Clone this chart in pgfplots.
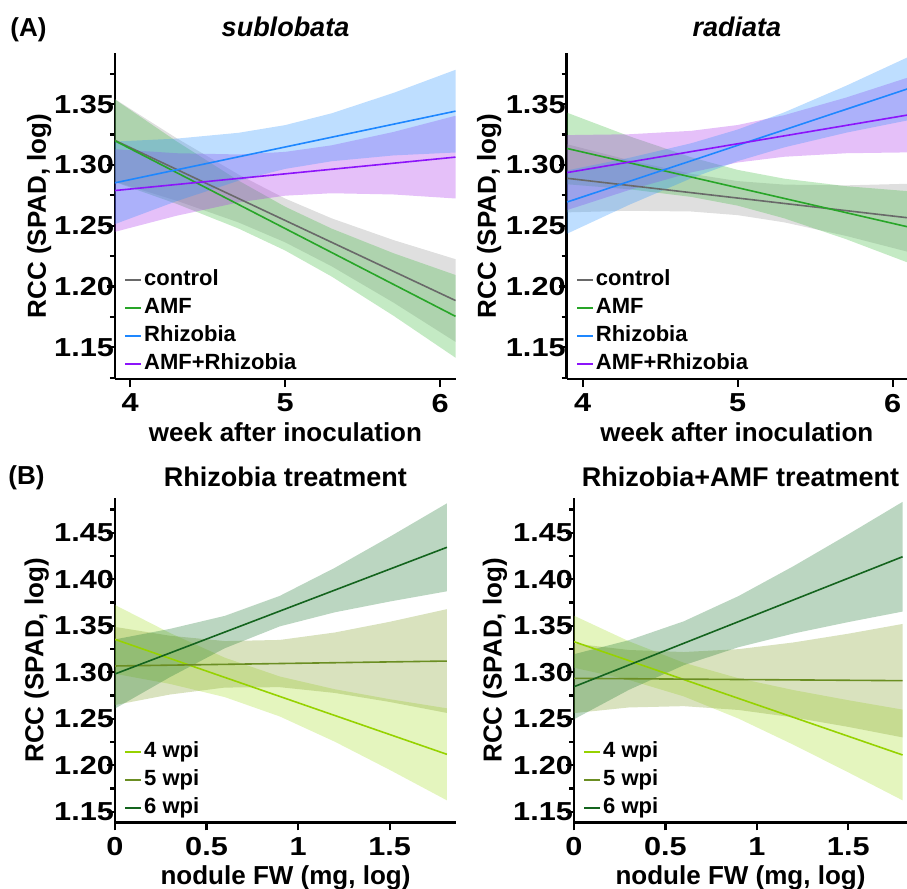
\documentclass[border=0pt]{standalone}
\usepackage{fontspec}
\setmainfont{Liberation Sans}
\newfontfamily\tickfont{Liberation Sans}[FakeStretch=1.18]
\usepackage{pgfplots}
\pgfplotsset{compat=1.18}

\definecolor{ctrl}{RGB}{105,105,105}
\definecolor{ctrlf}{RGB}{150,150,150}
\definecolor{amf}{RGB}{40,165,40}
\definecolor{amff}{RGB}{60,185,60}
\definecolor{rhz}{RGB}{30,135,255}
\definecolor{rhzf}{RGB}{40,145,255}
\definecolor{both}{RGB}{140,20,250}
\definecolor{bothf}{RGB}{170,45,235}
\definecolor{wkfour}{RGB}{150,210,0}
\definecolor{wkfourf}{RGB}{165,222,40}
\definecolor{wkfive}{RGB}{107,142,35}
\definecolor{wkfivef}{RGB}{130,160,40}
\definecolor{wksix}{RGB}{20,100,30}
\definecolor{wksixf}{RGB}{30,120,50}

\pgfplotsset{
  panel/.style={
    scale only axis, anchor=south west,
    axis x line*=bottom, axis y line*=left,
    axis line style={line width=1.4pt},
    every tick/.style={black, line width=1.1pt},
    tick align=outside,
    major tick length=4pt, minor tick length=2.5pt,
    /pgf/number format/assume math mode=true,
    tick label style={font=\tickfont\fontsize{13}{15}\selectfont\bfseries},
    yticklabel style={xshift=7pt, /pgf/number format/fixed, /pgf/number format/fixed zerofill,
      /pgf/number format/precision=2},
    label style={font=\fontsize{13}{15}\selectfont\bfseries},
    ylabel style={anchor=center},
    xlabel style={at={(axis description cs:0.5,0)}, anchor=base, yshift=-31pt},
    title style={at={(axis description cs:0.5,1)}, anchor=base,
      font=\fontsize{13.5}{15}\selectfont\bfseries},
    legend cell align=left,
    legend image code/.code={\draw[#1, line width=0.9pt] (0pt,0pt) -- (8pt,0pt);},
    legend style={draw=none, fill=none, at={(axis description cs:0,0)}, anchor=south west,
      xshift=4.5pt, yshift=1.5pt, inner sep=0pt, row sep=2pt,
      font=\fontsize{11}{12}\selectfont\bfseries,
      nodes={text height=8pt, text depth=2pt, inner sep=1pt}},
  },
  band/.style={draw=none, fill=#1, fill opacity=0.3, forget plot},
  fit/.style={#1, line width=0.8pt, no markers},
}

\begin{document}
\begin{tikzpicture}
\path[use as bounding box] (0pt,0pt) rectangle (453.5pt,-444.5pt);
\node[anchor=base west, inner sep=0pt, font=\fontsize{13}{14}\selectfont\bfseries] at (5pt,-18pt) {(A)};
\node[anchor=base west, inner sep=0pt, font=\fontsize{13}{14}\selectfont\bfseries] at (4pt,-242pt) {(B)};

% (A) sublobata
\begin{axis}[panel, at={(57.5pt,-189.5pt)}, width=170.5pt, height=163pt,
  xmin=3.903, xmax=6.103, ymin=1.124, ymax=1.392,
  xtick={4,5,6}, ytick={1.15,1.20,1.25,1.30,1.35},
  minor ytick={1.125,1.175,1.225,1.275,1.325,1.375},
  title={\itshape sublobata}, title style={yshift=2.5pt},
  xlabel={week after inoculation}, ylabel={RCC (SPAD, log)},
  ylabel style={at={(axis description cs:-0.2223,0.5)}}]
\addplot[band=ctrlf] coordinates {(3.9,1.3543)(4.3,1.3220)(4.7,1.2921)(5.0,1.2724)(5.3,1.2561)(5.7,1.2382)(6.1,1.2225)
  (6.1,1.1545)(5.7,1.1868)(5.3,1.2167)(5.0,1.2364)(4.7,1.2527)(4.3,1.2706)(3.9,1.2863)};
\addplot[band=amff] coordinates {(3.9,1.3540)(4.3,1.3194)(4.7,1.2871)(5.0,1.2657)(5.3,1.2477)(5.7,1.2274)(6.1,1.2095)
  (6.1,1.1415)(5.7,1.1760)(5.3,1.2083)(5.0,1.2297)(4.7,1.2477)(4.3,1.2680)(3.9,1.2860)};
\addplot[band=bothf] coordinates {(3.9,1.3129)(4.3,1.3096)(4.7,1.3086)(5.0,1.3107)(5.3,1.3161)(5.7,1.3271)(6.1,1.3404)
  (6.1,1.2724)(5.7,1.2757)(5.3,1.2767)(5.0,1.2747)(4.7,1.2692)(4.3,1.2582)(3.9,1.2449)};
\addplot[band=rhzf] coordinates {(3.9,1.3192)(4.3,1.3216)(4.7,1.3264)(5.0,1.3327)(5.3,1.3424)(5.7,1.3592)(6.1,1.3782)
  (6.1,1.3102)(5.7,1.3078)(5.3,1.3030)(5.0,1.2967)(4.7,1.2870)(4.3,1.2702)(3.9,1.2512)};
\addplot[fit=ctrl] coordinates {(3.9,1.3203)(6.1,1.1885)};
\addlegendentry{control}
\addplot[fit=amf] coordinates {(3.9,1.3200)(6.1,1.1755)};
\addlegendentry{AMF}
\addplot[fit=rhz] coordinates {(3.9,1.2852)(6.1,1.3442)};
\addlegendentry{Rhizobia}
\addplot[fit=both] coordinates {(3.9,1.2789)(6.1,1.3064)};
\addlegendentry{AMF+Rhizobia}
\end{axis}

% (A) radiata
\begin{axis}[panel, at={(283.35pt,-189.5pt)}, width=170.15pt, height=163pt,
  xmin=3.897, xmax=6.092, ymin=1.124, ymax=1.392,
  xtick={4,5,6}, ytick={1.15,1.20,1.25,1.30,1.35},
  minor ytick={1.125,1.175,1.225,1.275,1.325,1.375},
  title={\itshape radiata}, title style={yshift=2.5pt},
  xlabel={week after inoculation}, ylabel={RCC (SPAD, log)},
  ylabel style={at={(axis description cs:-0.2277,0.5)}}]
\addplot[band=ctrlf] coordinates {(3.9,1.3170)(4.3,1.3039)(4.7,1.2927)(5.0,1.2867)(5.3,1.2838)(5.7,1.2832)(6.1,1.2845)
  (6.1,1.2285)(5.7,1.2416)(5.3,1.2528)(5.0,1.2587)(4.7,1.2617)(4.3,1.2623)(3.9,1.2610)};
\addplot[band=amff] coordinates {(3.9,1.3429)(4.3,1.3236)(4.7,1.3063)(5.0,1.2959)(5.3,1.2887)(5.7,1.2825)(6.1,1.2784)
  (6.1,1.2196)(5.7,1.2389)(5.3,1.2561)(5.0,1.2665)(4.7,1.2737)(4.3,1.2800)(3.9,1.2841)};
\addplot[band=bothf] coordinates {(3.9,1.3245)(4.3,1.3252)(4.7,1.3280)(5.0,1.3328)(5.3,1.3409)(5.7,1.3554)(6.1,1.3719)
  (6.1,1.3103)(5.7,1.3096)(5.3,1.3067)(5.0,1.3020)(4.7,1.2938)(4.3,1.2794)(3.9,1.2629)};
\addplot[band=rhzf] coordinates {(3.9,1.2955)(4.3,1.3058)(4.7,1.3178)(5.0,1.3291)(5.3,1.3432)(5.7,1.3651)(6.1,1.3887)
  (6.1,1.3367)(5.7,1.3265)(5.3,1.3144)(5.0,1.3031)(4.7,1.2890)(4.3,1.2672)(3.9,1.2435)};
\addplot[fit=ctrl] coordinates {(3.9,1.2890)(6.1,1.2565)};
\addlegendentry{control}
\addplot[fit=amf] coordinates {(3.9,1.3135)(6.1,1.2490)};
\addlegendentry{AMF}
\addplot[fit=rhz] coordinates {(3.9,1.2695)(6.1,1.3627)};
\addlegendentry{Rhizobia}
\addplot[fit=both] coordinates {(3.9,1.2937)(6.1,1.3411)};
\addlegendentry{AMF+Rhizobia}
\end{axis}

% (B) Rhizobia treatment
\begin{axis}[panel, at={(57.5pt,-411.15pt)}, width=170.5pt, height=162pt,
  xmin=0, xmax=1.862, ymin=1.1386, ymax=1.487,
  xtick={0,0.5,1,1.5}, ytick={1.15,1.20,1.25,1.30,1.35,1.40,1.45},
  minor ytick={1.175,1.225,1.275,1.325,1.375,1.425,1.475},
  title={Rhizobia treatment},
  xlabel={nodule FW (mg, log)}, ylabel={RCC (SPAD, log)},
  ylabel style={at={(axis description cs:-0.2297,0.5)}},
  legend style={yshift=-0.5pt}]
\addplot[band=wkfourf] coordinates {(0,1.3723)(0.3,1.3422)(0.6,1.3156)(0.9,1.2954)(1.2,1.2817)(1.5,1.2710)(1.8125,1.2612)
  (1.8125,1.1622)(1.5,1.1950)(1.2,1.2253)(0.9,1.2524)(0.6,1.2732)(0.3,1.2874)(0,1.2983)};
\addplot[band=wkfivef] coordinates {(0,1.3487)(0.3,1.3392)(0.6,1.3335)(0.9,1.3347)(1.2,1.3427)(1.5,1.3542)(1.8125,1.3678)
  (1.8125,1.2562)(1.5,1.2680)(1.2,1.2777)(0.9,1.2839)(0.6,1.2835)(0.3,1.2760)(0,1.2647)};
\addplot[band=wksixf] coordinates {(0,1.3353)(0.3,1.3466)(0.6,1.3606)(0.9,1.3821)(1.2,1.4122)(1.5,1.4456)(1.8125,1.4816)
  (1.8125,1.3870)(1.5,1.3760)(1.2,1.3644)(0.9,1.3493)(0.6,1.3258)(0.3,1.2947)(0,1.2609)};
\addplot[fit=wkfour] coordinates {(0,1.3353)(1.8125,1.2117)};
\addlegendentry{4 wpi}
\addplot[fit=wkfive] coordinates {(0,1.3067)(1.8125,1.3120)};
\addlegendentry{5 wpi}
\addplot[fit=wksix] coordinates {(0,1.2981)(1.8125,1.4343)};
\addlegendentry{6 wpi}
\end{axis}

% (B) Rhizobia+AMF treatment
\begin{axis}[panel, at={(287pt,-411.15pt)}, width=166.5pt, height=162pt,
  xmin=0, xmax=1.821, ymin=1.1386, ymax=1.487,
  xtick={0,0.5,1,1.5}, ytick={1.15,1.20,1.25,1.30,1.35,1.40,1.45},
  minor ytick={1.175,1.225,1.275,1.325,1.375,1.425,1.475},
  title={Rhizobia+AMF treatment},
  xlabel={nodule FW (mg, log)}, ylabel={RCC (SPAD, log)},
  ylabel style={at={(axis description cs:-0.2372,0.5)}},
  legend style={yshift=-0.5pt}]
\addplot[band=wkfourf] coordinates {(0,1.3608)(0.3,1.3333)(0.6,1.3102)(0.9,1.2935)(1.2,1.2808)(1.5,1.2699)(1.797,1.2598)
  (1.797,1.1622)(1.5,1.1923)(1.2,1.2220)(0.9,1.2501)(0.6,1.2740)(0.3,1.2917)(0,1.3048)};
\addplot[band=wkfivef] coordinates {(0,1.3308)(0.3,1.3239)(0.6,1.3217)(0.9,1.3248)(1.2,1.3320)(1.5,1.3414)(1.797,1.3519)
  (1.797,1.2299)(1.5,1.2412)(1.2,1.2514)(0.9,1.2594)(0.6,1.2635)(0.3,1.2621)(0,1.2560)};
\addplot[band=wksixf] coordinates {(0,1.3194)(0.3,1.3344)(0.6,1.3547)(0.9,1.3819)(1.2,1.4140)(1.5,1.4483)(1.797,1.4832)
  (1.797,1.3652)(1.5,1.3539)(1.2,1.3416)(0.9,1.3269)(0.6,1.3075)(0.3,1.2810)(0,1.2494)};
\addplot[fit=wkfour] coordinates {(0,1.3328)(1.797,1.2110)};
\addlegendentry{4 wpi}
\addplot[fit=wkfive] coordinates {(0,1.2934)(1.797,1.2909)};
\addlegendentry{5 wpi}
\addplot[fit=wksix] coordinates {(0,1.2844)(1.797,1.4242)};
\addlegendentry{6 wpi}
\end{axis}
\end{tikzpicture}
\end{document}
